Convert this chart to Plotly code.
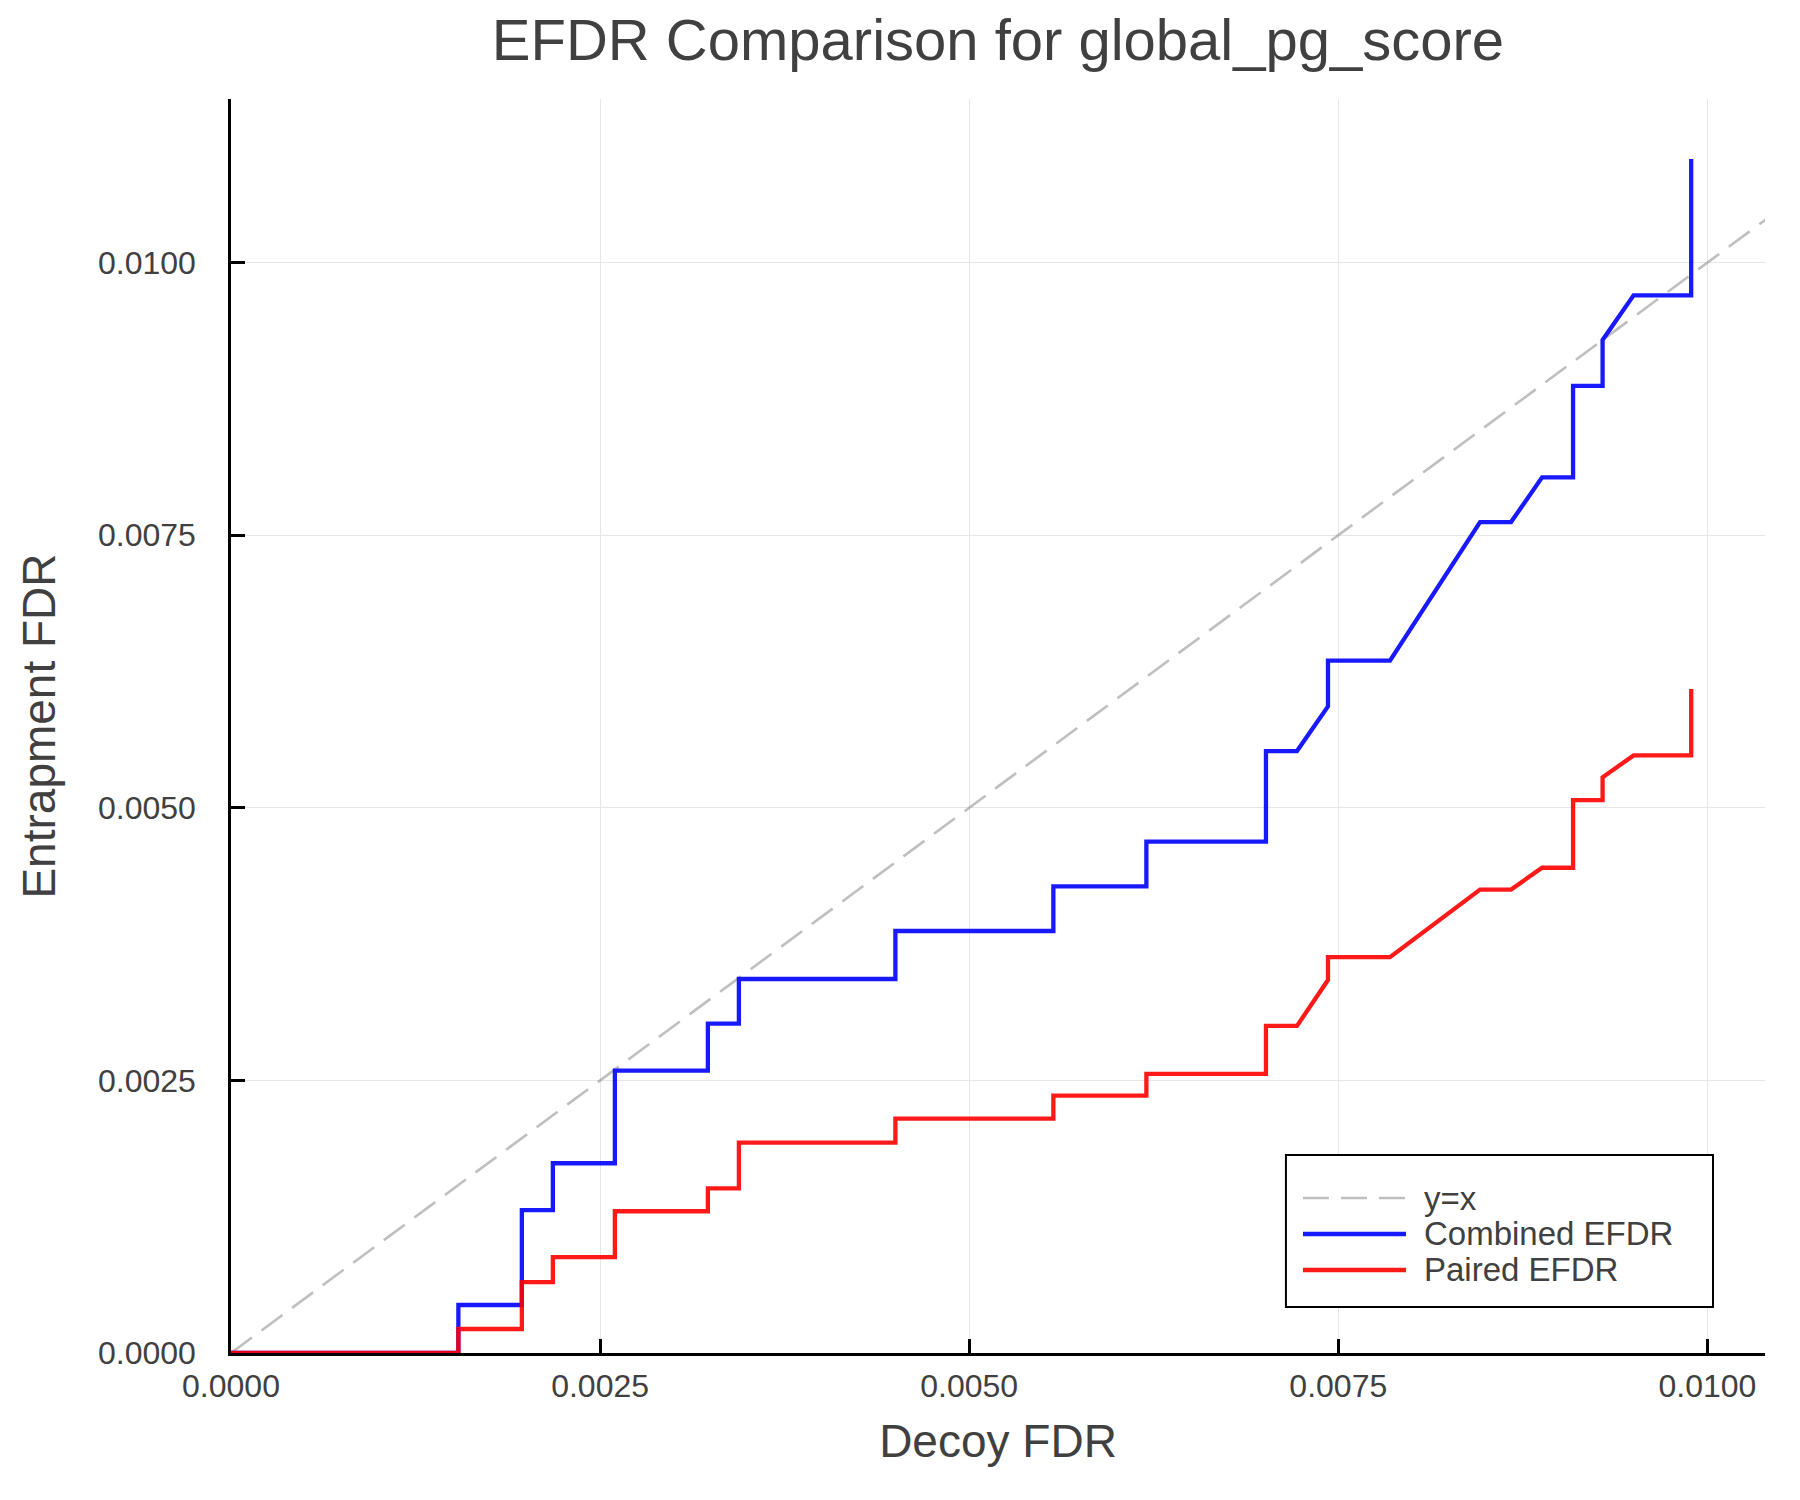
import plotly.graph_objects as go

# decoy FDR values shared by both curves (polyline vertices)
decoy_fdr = [0, 0.00154, 0.00154, 0.00197, 0.00197, 0.00218, 0.00218, 0.00260, 0.00260,
             0.00323, 0.00323, 0.00344, 0.00344, 0.00450, 0.00450, 0.00557, 0.00557,
             0.00620, 0.00620, 0.00701, 0.00701, 0.00722, 0.00743, 0.00743, 0.00785,
             0.00846, 0.00867, 0.00888, 0.00909, 0.00909, 0.00929, 0.00929, 0.00950,
             0.00989, 0.00989]

combined_efdr = [0, 0, 0.00044, 0.00044, 0.00131, 0.00131, 0.00174, 0.00174, 0.00259,
                 0.00259, 0.00302, 0.00302, 0.00343, 0.00343, 0.00387, 0.00387, 0.00428,
                 0.00428, 0.00469, 0.00469, 0.00552, 0.00552, 0.00593, 0.00635, 0.00635,
                 0.00762, 0.00762, 0.00803, 0.00803, 0.00887, 0.00887, 0.00929, 0.00970,
                 0.00970, 0.01095]

paired_efdr = [0, 0, 0.00022, 0.00022, 0.00065, 0.00065, 0.00088, 0.00088, 0.00130,
               0.00130, 0.00151, 0.00151, 0.00193, 0.00193, 0.00215, 0.00215, 0.00236,
               0.00236, 0.00256, 0.00256, 0.00300, 0.00300, 0.00342, 0.00363, 0.00363,
               0.00425, 0.00425, 0.00445, 0.00445, 0.00507, 0.00507, 0.00528, 0.00548,
               0.00548, 0.00609]

diag = [0, 0.0116]

tick_vals = [0, 0.0025, 0.005, 0.0075, 0.01]
x_range = [0, 0.01039]
y_range = [0, 0.0115]

FONT = "Liberation Sans, Helvetica, Arial, sans-serif"
TEXT = "#404040"

DIAG_LINE = dict(color="rgba(128,128,128,0.5)", width=2.6, dash="26px,12px")
BLUE_LINE = dict(color="rgba(0,0,255,0.9)", width=4.3)
RED_LINE = dict(color="rgba(255,0,0,0.9)", width=4.3)

fig = go.Figure()
fig.add_trace(go.Scatter(x=diag, y=diag, mode="lines", line=DIAG_LINE,
                         name="y=x", showlegend=False))
fig.add_trace(go.Scatter(x=decoy_fdr, y=combined_efdr, mode="lines", line=BLUE_LINE,
                         name="Combined EFDR", showlegend=False))
fig.add_trace(go.Scatter(x=decoy_fdr, y=paired_efdr, mode="lines", line=RED_LINE,
                         name="Paired EFDR", showlegend=False))

# hand-drawn legend box, so the line samples can be as long as in the original
legend_labels = ["y=x", "Combined EFDR", "Paired EFDR"]
legend_styles = [DIAG_LINE, BLUE_LINE, RED_LINE]
legend_rows = [0.1236, 0.0949, 0.0662]

shapes = [dict(type="rect", xref="paper", yref="paper", x0=0.6877, x1=0.9661,
               y0=0.0367, y1=0.1579, line=dict(color="black", width=2),
               fillcolor="white", layer="above")]
annotations = []
for label, style, yy in zip(legend_labels, legend_styles, legend_rows):
    shapes.append(dict(type="line", xref="paper", yref="paper", x0=0.6988, x1=0.766,
                       y0=yy, y1=yy, line=style, layer="above"))
    annotations.append(dict(text=label, xref="paper", yref="paper", x=0.7764, y=yy,
                            xanchor="left", yanchor="middle", showarrow=False,
                            font=dict(family=FONT, size=33, color=TEXT)))

axis_common = dict(
    showline=True, linecolor="black", linewidth=2.5, mirror=False,
    ticks="inside", ticklen=14, tickwidth=2.5, tickcolor="black",
    showgrid=True, gridcolor="#e6e6e6", gridwidth=1.3, zeroline=False,
    tickvals=tick_vals, tickformat=".4f",
    tickfont=dict(family=FONT, size=32, color=TEXT),
)

fig.update_layout(
    width=1800, height=1500,
    paper_bgcolor="white", plot_bgcolor="white",
    margin=dict(l=223, r=43, t=91, b=155),
    title=dict(text="EFDR Comparison for global_pg_score", x=0.5, xref="paper",
               xanchor="center", y=0.979, yanchor="middle",
               font=dict(family=FONT, size=58, color=TEXT)),
    xaxis=dict(range=x_range, title=dict(text="Decoy FDR", standoff=22,
               font=dict(family=FONT, size=46, color=TEXT)),
               ticklabelstandoff=3, **axis_common),
    yaxis=dict(range=y_range, title=dict(text="Entrapment FDR", standoff=28,
               font=dict(family=FONT, size=46, color=TEXT)),
               ticklabelstandoff=26, **axis_common),
    shapes=shapes,
    annotations=annotations,
    showlegend=False,
)

fig.write_html("out.html")
